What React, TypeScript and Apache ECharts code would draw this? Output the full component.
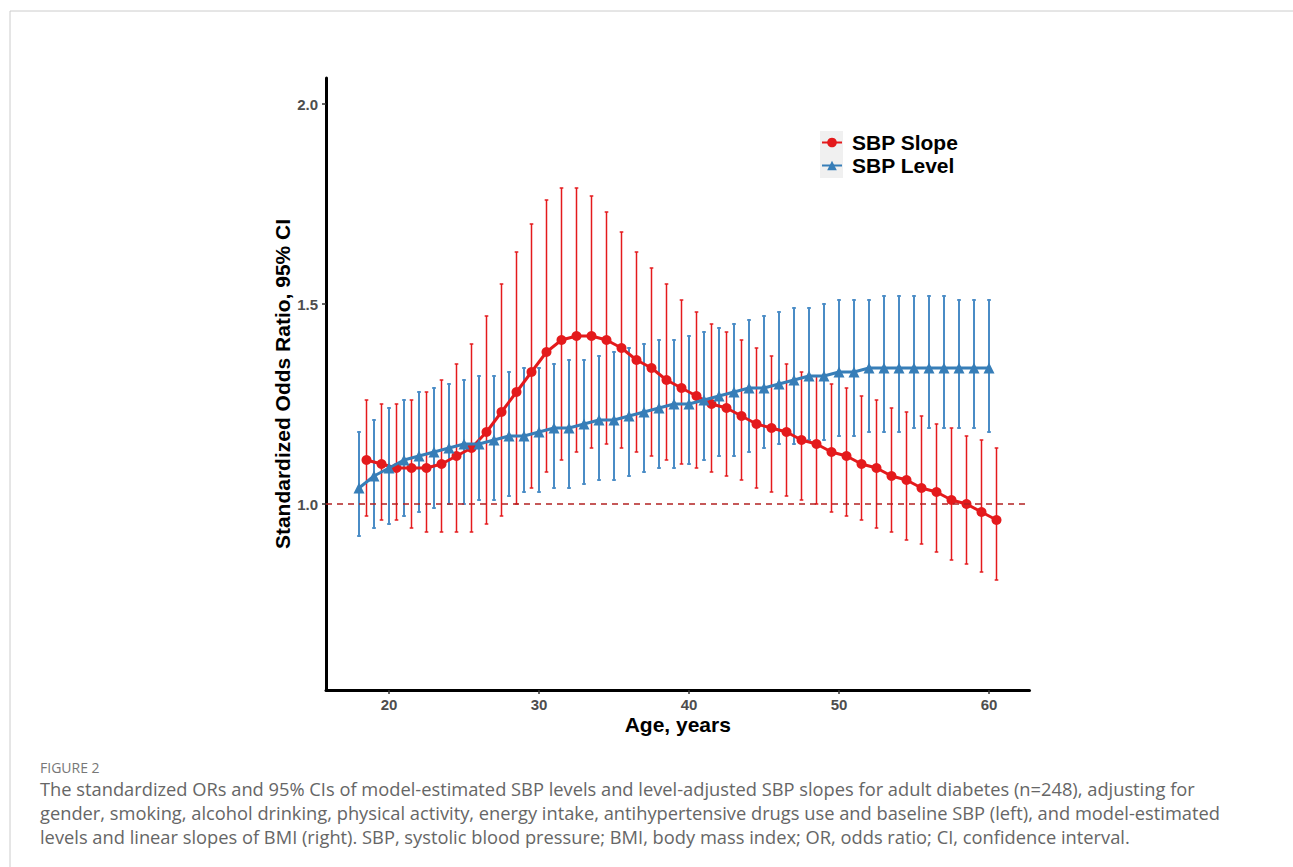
import React, { useEffect, useRef } from "react";
import * as echarts from "echarts";

// ---- Data ----
const slopeAges = [18.5, 19.5, 20.5, 21.5, 22.5, 23.5, 24.5, 25.5, 26.5, 27.5, 28.5, 29.5, 30.5, 31.5, 32.5, 33.5, 34.5, 35.5, 36.5, 37.5, 38.5, 39.5, 40.5, 41.5, 42.5, 43.5, 44.5, 45.5, 46.5, 47.5, 48.5, 49.5, 50.5, 51.5, 52.5, 53.5, 54.5, 55.5, 56.5, 57.5, 58.5, 59.5, 60.5];
const slopeOR = [1.11, 1.10, 1.09, 1.09, 1.09, 1.10, 1.12, 1.14, 1.18, 1.23, 1.28, 1.33, 1.38, 1.41, 1.42, 1.42, 1.41, 1.39, 1.36, 1.34, 1.31, 1.29, 1.27, 1.25, 1.24, 1.22, 1.20, 1.19, 1.18, 1.16, 1.15, 1.13, 1.12, 1.10, 1.09, 1.07, 1.06, 1.04, 1.03, 1.01, 1.00, 0.98, 0.96];
const slopeLow = [0.97, 0.96, 0.96, 0.94, 0.93, 0.93, 0.93, 0.93, 0.95, 0.97, 1.00, 1.04, 1.08, 1.11, 1.13, 1.14, 1.15, 1.14, 1.13, 1.12, 1.11, 1.10, 1.09, 1.08, 1.07, 1.06, 1.04, 1.03, 1.02, 1.01, 1.00, 0.98, 0.97, 0.96, 0.94, 0.93, 0.91, 0.90, 0.88, 0.86, 0.85, 0.83, 0.81];
const slopeHigh = [1.26, 1.25, 1.25, 1.26, 1.28, 1.31, 1.35, 1.40, 1.47, 1.55, 1.63, 1.70, 1.76, 1.79, 1.79, 1.77, 1.73, 1.68, 1.63, 1.59, 1.55, 1.51, 1.48, 1.45, 1.43, 1.41, 1.39, 1.37, 1.35, 1.33, 1.32, 1.30, 1.29, 1.27, 1.26, 1.24, 1.23, 1.22, 1.20, 1.19, 1.17, 1.16, 1.14];

const levelAges = [18, 19, 20, 21, 22, 23, 24, 25, 26, 27, 28, 29, 30, 31, 32, 33, 34, 35, 36, 37, 38, 39, 40, 41, 42, 43, 44, 45, 46, 47, 48, 49, 50, 51, 52, 53, 54, 55, 56, 57, 58, 59, 60];
const levelOR = [1.04, 1.07, 1.09, 1.11, 1.12, 1.13, 1.14, 1.15, 1.15, 1.16, 1.17, 1.17, 1.18, 1.19, 1.19, 1.20, 1.21, 1.21, 1.22, 1.23, 1.24, 1.25, 1.25, 1.26, 1.27, 1.28, 1.29, 1.29, 1.30, 1.31, 1.32, 1.32, 1.33, 1.33, 1.34, 1.34, 1.34, 1.34, 1.34, 1.34, 1.34, 1.34, 1.34];
const levelLow = [0.92, 0.94, 0.95, 0.97, 0.98, 0.99, 1.00, 1.00, 1.01, 1.01, 1.02, 1.03, 1.03, 1.04, 1.04, 1.05, 1.06, 1.06, 1.07, 1.08, 1.09, 1.09, 1.10, 1.11, 1.12, 1.12, 1.13, 1.14, 1.15, 1.15, 1.16, 1.16, 1.17, 1.17, 1.18, 1.18, 1.18, 1.19, 1.19, 1.19, 1.19, 1.19, 1.18];
const levelHigh = [1.18, 1.21, 1.24, 1.26, 1.28, 1.29, 1.30, 1.31, 1.32, 1.32, 1.33, 1.34, 1.34, 1.35, 1.36, 1.36, 1.37, 1.38, 1.39, 1.40, 1.41, 1.41, 1.42, 1.43, 1.44, 1.45, 1.46, 1.47, 1.48, 1.49, 1.49, 1.50, 1.51, 1.51, 1.51, 1.52, 1.52, 1.52, 1.52, 1.52, 1.51, 1.51, 1.51];

const xTicks = [20, 30, 40, 50, 60];
const yTicks = [1.0, 1.5, 2.0];
const refLine = 1.0;

const captionTitle = "FIGURE 2";
const captionLines = [
  "The standardized ORs and 95% CIs of model-estimated SBP levels and level-adjusted SBP slopes for adult diabetes (n=248), adjusting for",
  "gender, smoking, alcohol drinking, physical activity, energy intake, antihypertensive drugs use and baseline SBP (left), and model-estimated",
  "levels and linear slopes of BMI (right). SBP, systolic blood pressure; BMI, body mass index; OR, odds ratio; CI, confidence interval.",
];

const RED = "#e41a1c";
const BLUE = "#377eb8";
const BLUE_BAR = "#4a8cc6";

function errorBarSeries(name: string, ages: number[], lo: number[], hi: number[], color: string, width: number) {
  return {
    type: "custom",
    name,
    silent: true,
    z: 2,
    data: ages.map((a, i) => [a, lo[i], hi[i]]),
    encode: { x: 0, y: [1, 2] },
    renderItem: (params: any, api: any) => {
      const x = api.value(0);
      const pLo = api.coord([x, api.value(1)]);
      const pHi = api.coord([x, api.value(2)]);
      const cw = 1.8;
      const style = { stroke: color, lineWidth: width };
      return {
        type: "group",
        children: [
          { type: "line", shape: { x1: pLo[0], y1: pLo[1], x2: pHi[0], y2: pHi[1] }, style },
          { type: "line", shape: { x1: pLo[0] - cw, y1: pLo[1], x2: pLo[0] + cw, y2: pLo[1] }, style },
          { type: "line", shape: { x1: pHi[0] - cw, y1: pHi[1], x2: pHi[0] + cw, y2: pHi[1] }, style },
        ],
      };
    },
  };
}

export default function App() {
  const ref = useRef<HTMLDivElement>(null);
  useEffect(() => {
    if (!ref.current) return;
    const chart = echarts.init(ref.current, null, { renderer: "svg" });
    const font = "'Liberation Sans', Arial, sans-serif";
    const capFont = "'Open Sans', 'Noto Sans', sans-serif";
    chart.setOption({
      animation: false,
      backgroundColor: "#ffffff",
      grid: { left: 326, top: 78, right: 263.5, bottom: 177, containLabel: false },
      xAxis: {
        type: "value",
        min: 15.8,
        max: 62.7,
        name: "Age, years",
        nameLocation: "middle",
        nameGap: 24,
        nameMoveOverlap: false,
        nameTextStyle: { fontFamily: font, fontWeight: "bold", fontSize: 21, color: "#000" },
        axisLine: { show: true, lineStyle: { color: "#000", width: 3 } },
        axisTick: { show: true, customValues: xTicks, length: 4, lineStyle: { color: "#333", width: 1.5 } },
        axisLabel: {
          customValues: xTicks,
          margin: 7,
          fontFamily: font,
          fontWeight: "bold",
          fontSize: 15,
          color: "#4d4d4d",
        },
        splitLine: { show: false },
      },
      yAxis: {
        type: "value",
        min: 0.535,
        max: 2.065,
        name: "Standardized Odds Ratio, 95% CI",
        nameLocation: "middle",
        nameGap: 33,
        nameMoveOverlap: false,
        nameTextStyle: { fontFamily: font, fontWeight: "bold", fontSize: 21, color: "#000" },
        axisLine: { show: true, lineStyle: { color: "#000", width: 3 } },
        axisTick: { show: true, customValues: yTicks, length: 4, lineStyle: { color: "#333", width: 1.5 } },
        axisLabel: {
          customValues: yTicks,
          margin: 8,
          fontFamily: font,
          fontWeight: "bold",
          fontSize: 15,
          color: "#4d4d4d",
          formatter: (v: number) => v.toFixed(1),
        },
        splitLine: { show: false },
      },
      legend: {
        data: ["SBP Slope", "SBP Level"],
        orient: "vertical",
        left: 821,
        top: 132,
        padding: 0,
        itemGap: 2,
        itemWidth: 20,
        itemHeight: 12,
        z: 5,
        textStyle: { fontFamily: font, fontWeight: "bold", fontSize: 21, color: "#000", lineHeight: 20, padding: [0, 0, 0, 5] },
      },
      graphic: [
        { type: "rect", z: 0, shape: { x: 820, y: 131, width: 23, height: 47 }, style: { fill: "#f0f0f0" } },
        { type: "line", shape: { x1: 10, y1: 11, x2: 1293, y2: 11 }, style: { stroke: "#cccccc", lineWidth: 1 } },
        { type: "line", shape: { x1: 10, y1: 11, x2: 10, y2: 867 }, style: { stroke: "#cccccc", lineWidth: 1 } },
        {
          type: "text",
          x: 40,
          y: 767,
          style: { text: captionTitle, fill: "#777", font: `14px ${capFont}`, textVerticalAlign: "middle" },
        },
        ...captionLines.map((t, i) => ({
          type: "text",
          x: 40,
          y: 788 + i * 24,
          style: { text: t, fill: "#666", font: `18.3px ${capFont}`, textVerticalAlign: "middle" },
        })),
      ],
      series: [
        errorBarSeries("slopeCI", slopeAges, slopeLow, slopeHigh, RED, 1.5),
        errorBarSeries("levelCI", levelAges, levelLow, levelHigh, BLUE_BAR, 2),
        {
          type: "line",
          name: "SBP Slope",
          z: 3,
          data: slopeAges.map((a, i) => [a, slopeOR[i]]),
          symbol: "circle",
          symbolSize: 10,
          lineStyle: { color: RED, width: 3 },
          itemStyle: { color: RED },
          markLine: {
            silent: true,
            symbol: "none",
            label: { show: false },
            lineStyle: { color: "#b22222", type: [6, 5], width: 1.5 },
            data: [{ yAxis: refLine }],
          },
        },
        {
          type: "line",
          name: "SBP Level",
          z: 4,
          data: levelAges.map((a, i) => [a, levelOR[i]]),
          symbol: "triangle",
          symbolSize: 11,
          lineStyle: { color: BLUE, width: 3 },
          itemStyle: { color: BLUE },
        },
      ],
    });
    return () => chart.dispose();
  }, []);
  return (
    <div
      ref={ref}
      style={{ position: "absolute", left: 0, top: 0, width: 1293, height: 867, background: "#fff" }}
    />
  );
}
